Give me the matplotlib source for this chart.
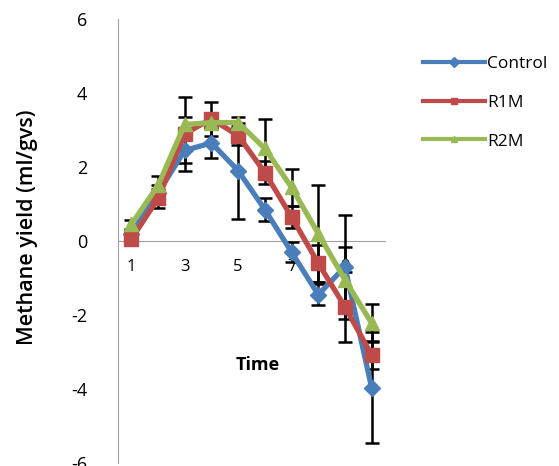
import matplotlib
matplotlib.use('Agg')
import matplotlib.pyplot as plt
from matplotlib.lines import Line2D

plt.rcParams['font.family'] = ['Open Sans', 'DejaVu Sans']

# methane yield per time step
time = [1, 2, 3, 4, 5, 6, 7, 8, 9, 10]
control = [0.2, 1.3, 2.45, 2.65, 1.9, 0.85, -0.3, -1.45, -0.7, -3.97]
r1m = [0.05, 1.15, 2.9, 3.3, 2.85, 1.85, 0.65, -0.6, -1.78, -3.08]
r2m = [0.45, 1.5, 3.15, 3.2, 3.2, 2.5, 1.45, 0.2, -1.05, -2.22]

control_err = [0.1, 0.2, 0.35, 0.4, 1.3, 0.32, 0.28, 0.28, 1.4, 1.5]
r1m_err = [0.1, 0.25, 1.0, 0.45, 0.25, 0.3, 0.3, 0.5, 0.95, 0.38]
r2m_err = [0.12, 0.25, 0.2, 0.15, 0.15, 0.8, 0.5, 1.3, 0.9, 0.52]

xticks = [1, 3, 5, 7, 9]
yticks = [-6, -4, -2, 0, 2, 4, 6]

series = [
    ('Control', control, control_err, '#4A7EBB', 'D', 8.5),
    ('R1M', r1m, r1m_err, '#BE4B48', 's', 10.5),
    ('R2M', r2m, r2m_err, '#98B954', '^', 10.5),
]

fig = plt.figure(figsize=(5.59, 4.66), dpi=100)
ax = fig.add_axes([118 / 559, 3 / 466, 267 / 559, 444 / 466])

for name, vals, err, col, mk, ms in series:
    ax.errorbar(time, vals, yerr=err, fmt='none', ecolor='black',
                elinewidth=1.8, capsize=5, capthick=1.8, zorder=2)
    ax.plot(time, vals, color=col, lw=3.8, marker=mk, ms=ms,
            markeredgecolor=col, zorder=3)

ax.set_xlim(0.5, 10.5)
ax.set_ylim(-6, 6)

for s in ['top', 'right']:
    ax.spines[s].set_visible(False)
ax.spines['left'].set_color('#A0A0A0')
ax.spines['bottom'].set_position(('data', 0))
ax.spines['bottom'].set_color('#A0A0A0')
ax.spines['bottom'].set_zorder(1)

ax.set_yticks(yticks)
ax.set_yticklabels([str(v) for v in yticks], fontsize=13)
ax.tick_params(axis='y', length=0, pad=22)
ax.set_xticks(xticks)
ax.set_xticklabels([str(v) for v in xticks], fontsize=12)
ax.tick_params(axis='x', length=0, pad=13)

ax.set_ylabel('Methane yield (ml/gvs)', fontsize=15.5, fontweight='semibold')
ax.yaxis.set_label_coords(-0.30, 0.53)
ax.text(5.75, -3.35, 'Time', fontsize=13, fontweight='bold',
        ha='center', va='center')

handles = [Line2D([], [], color=col, lw=3, marker=mk, ms=5, markeredgecolor=col)
           for name, vals, err, col, mk, ms in series]
fig.legend(handles, [s[0] for s in series], loc='upper left',
           bbox_to_anchor=(416 / 559, 1 - 49 / 466), frameon=False,
           fontsize=12.5, handlelength=3.6, handletextpad=0.1,
           labelspacing=1.3, borderaxespad=0)

fig.savefig('out.png', dpi=100)
